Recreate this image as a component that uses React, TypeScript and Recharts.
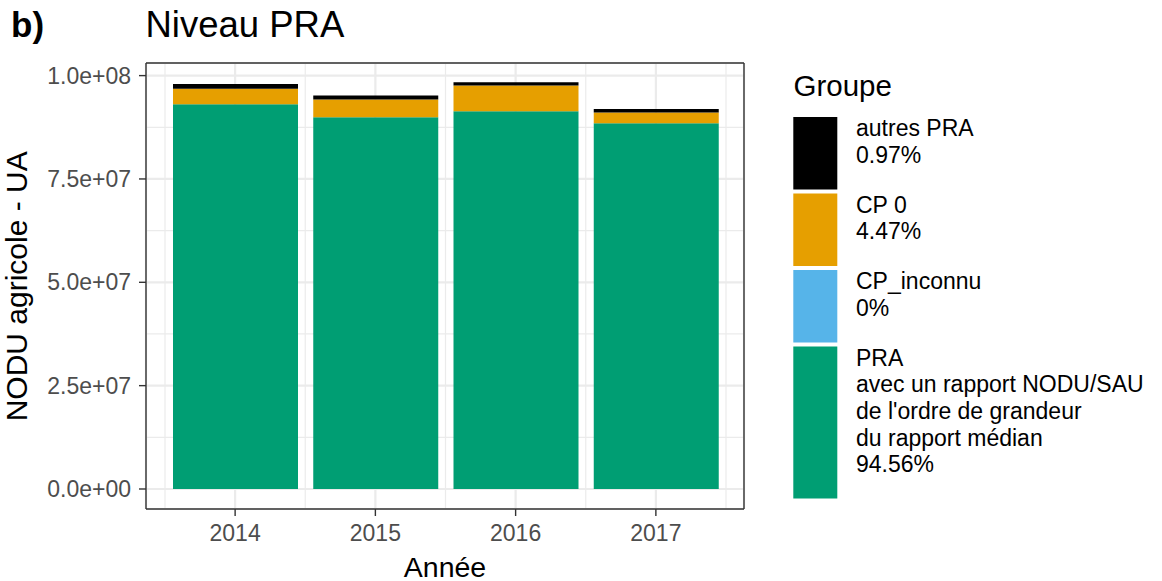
import React from 'react';
import { BarChart, Bar, XAxis, YAxis, CartesianGrid, Legend } from 'recharts';

// ---- data ----
const years = ['2014', '2015', '2016', '2017'];
const praValues = [93.1e6, 89.9e6, 91.4e6, 88.5e6];
const cpInconnuValues = [0, 0, 0, 0];
const cp0Values = [3.7e6, 4.3e6, 6.2e6, 2.6e6];
const autresValues = [1.2e6, 1.0e6, 0.8e6, 0.8e6];

const yTicks = [0, 25e6, 50e6, 75e6, 100e6];
const yMinorTicks = [12.5e6, 37.5e6, 62.5e6, 87.5e6];
const yDomain: [number, number] = [-4.84e6, 103.05e6];

const titleText = 'Niveau PRA';
const tagText = 'b)';
const xTitle = 'Année';
const yTitle = 'NODU agricole - UA';
const legendTitle = 'Groupe';

// legend groups (top to bottom)
const legendGroups = [
  { key: 'autres', lines: ['autres PRA', '0.97%'], color: '#000000' },
  { key: 'cp0', lines: ['CP 0', '4.47%'], color: '#E69F00' },
  { key: 'inconnu', lines: ['CP_inconnu', '0%'], color: '#56B4E9' },
  {
    key: 'pra',
    lines: ['PRA', 'avec un rapport NODU/SAU', "de l'ordre de grandeur", 'du rapport médian', '94.56%'],
    color: '#009E73',
  },
];

const data = years.map((y, i) => ({
  year: y,
  pra: praValues[i],
  inconnu: cpInconnuValues[i],
  cp0: cp0Values[i],
  autres: autresValues[i],
}));

const FONT = '"Liberation Sans", Arial, Helvetica, sans-serif';
const BORDER = { stroke: '#333333', strokeWidth: 1.4 };

const sci = (v: number) => {
  if (v === 0) return '0.0e+00';
  const e = Math.floor(Math.log10(Math.abs(v)) + 1e-9);
  const m = v / Math.pow(10, e);
  return `${m.toFixed(1)}e+${String(e).padStart(2, '0')}`;
};

// minor vertical grid: band boundaries (category edges) from the band scale
const minorVertical = (props: any) => {
  try {
    const sc = props?.xAxis?.scale;
    if (!sc) return [];
    const bw = typeof sc.bandwidth === 'function' ? sc.bandwidth() : 0;
    const rng = typeof sc.range === 'function' ? sc.range() : null;
    if (!rng || !bw) return [];
    const start = Math.min(rng[0], rng[1]);
    const out: number[] = [];
    for (let i = 0; i <= years.length; i++) out.push(start + i * bw);
    return out;
  } catch (e) {
    return [];
  }
};

const LegendContent = () => {
  const keyX = 793.3;
  const keyW = 44;
  const textX = 856;
  const lineH = 26.7;
  let top = 117;
  const items = legendGroups.map((g) => {
    const h = g.lines.length === 2 ? 72.5 : 152;
    const it = { ...g, top, h };
    top += h + 4;
    return it;
  });
  return (
    <svg
      width={1162}
      height={581}
      style={{ position: 'absolute', left: 0, top: 0, overflow: 'visible', pointerEvents: 'none' }}
    >
      <text x={793.5} y={96} fontFamily={FONT} fontSize={29.5} fill="#000">
        {legendTitle}
      </text>
      {items.map((it) => (
        <g key={it.key}>
          <rect x={keyX} y={it.top} width={keyW} height={it.h} fill={it.color} />
          {it.lines.map((l, j) => (
            <text key={j} x={textX} y={it.top + 19 + j * lineH} fontFamily={FONT} fontSize={23} fill="#000">
              {l}
            </text>
          ))}
        </g>
      ))}
    </svg>
  );
};

export default function App() {
  return (
    <div style={{ position: 'absolute', left: 0, top: 0, width: 1162, height: 581, background: '#fff' }}>
      <BarChart
        width={1162}
        height={581}
        data={data}
        margin={{ top: 62, right: 417, bottom: 32, left: 46 }}
        barSize={125}
      >
        {/* minor grid */}
        <CartesianGrid
          xAxisId="cat"
          yAxisId="minor"
          stroke="#EBEBEB"
          strokeWidth={1.2}
          verticalCoordinatesGenerator={minorVertical}
        />
        {/* major grid */}
        <CartesianGrid xAxisId="cat" yAxisId="main" stroke="#EBEBEB" strokeWidth={2.2} />
        <XAxis
          xAxisId="cat"
          dataKey="year"
          type="category"
          height={40}
          padding={{ left: 19, right: 18 }}
          axisLine={BORDER}
          tickLine={BORDER}
          tickSize={7}
          tickMargin={9}
          tick={{ fill: '#4D4D4D', fontSize: 23, fontFamily: FONT }}
        />
        <XAxis
          xAxisId="top"
          dataKey="year"
          type="category"
          orientation="top"
          height={1}
          tick={false}
          tickLine={false}
          axisLine={BORDER}
        />
        <YAxis
          yAxisId="main"
          type="number"
          domain={yDomain}
          ticks={yTicks}
          allowDataOverflow
          width={100}
          axisLine={BORDER}
          tickLine={BORDER}
          tickSize={7}
          tickMargin={8}
          tickFormatter={sci}
          tick={{ fill: '#4D4D4D', fontSize: 23, fontFamily: FONT }}
        />
        <YAxis
          yAxisId="minor"
          type="number"
          domain={yDomain}
          ticks={yMinorTicks}
          allowDataOverflow
          hide
        />
        <YAxis
          yAxisId="right"
          type="number"
          orientation="right"
          domain={yDomain}
          allowDataOverflow
          width={1}
          tick={false}
          tickLine={false}
          axisLine={BORDER}
        />
        <Bar xAxisId="cat" yAxisId="main" dataKey="pra" stackId="s" fill="#009E73" isAnimationActive={false} />
        <Bar xAxisId="cat" yAxisId="main" dataKey="inconnu" stackId="s" fill="#56B4E9" isAnimationActive={false} />
        <Bar xAxisId="cat" yAxisId="main" dataKey="cp0" stackId="s" fill="#E69F00" isAnimationActive={false} />
        <Bar xAxisId="cat" yAxisId="main" dataKey="autres" stackId="s" fill="#000000" isAnimationActive={false} />
        <Legend
          content={() => <LegendContent />}
          wrapperStyle={{ left: 0, top: 0, width: 0, height: 0, overflow: 'visible' }}
        />
      </BarChart>
      <svg
        width={1162}
        height={581}
        style={{ position: 'absolute', left: 0, top: 0, pointerEvents: 'none' }}
      >
        <text x={11} y={37} fontFamily={FONT} fontSize={35} fontWeight="bold" fill="#000">
          {tagText}
        </text>
        <text x={145.5} y={37} fontFamily={FONT} fontSize={36.5} fill="#000">
          {titleText}
        </text>
        <text x={445} y={576.5} fontFamily={FONT} fontSize={28.5} fill="#000" textAnchor="middle">
          {xTitle}
        </text>
        <text
          x={0}
          y={0}
          transform="translate(27,286.3) rotate(-90)"
          fontFamily={FONT}
          fontSize={30}
          fill="#000"
          textAnchor="middle"
        >
          {yTitle}
        </text>
      </svg>
    </div>
  );
}
